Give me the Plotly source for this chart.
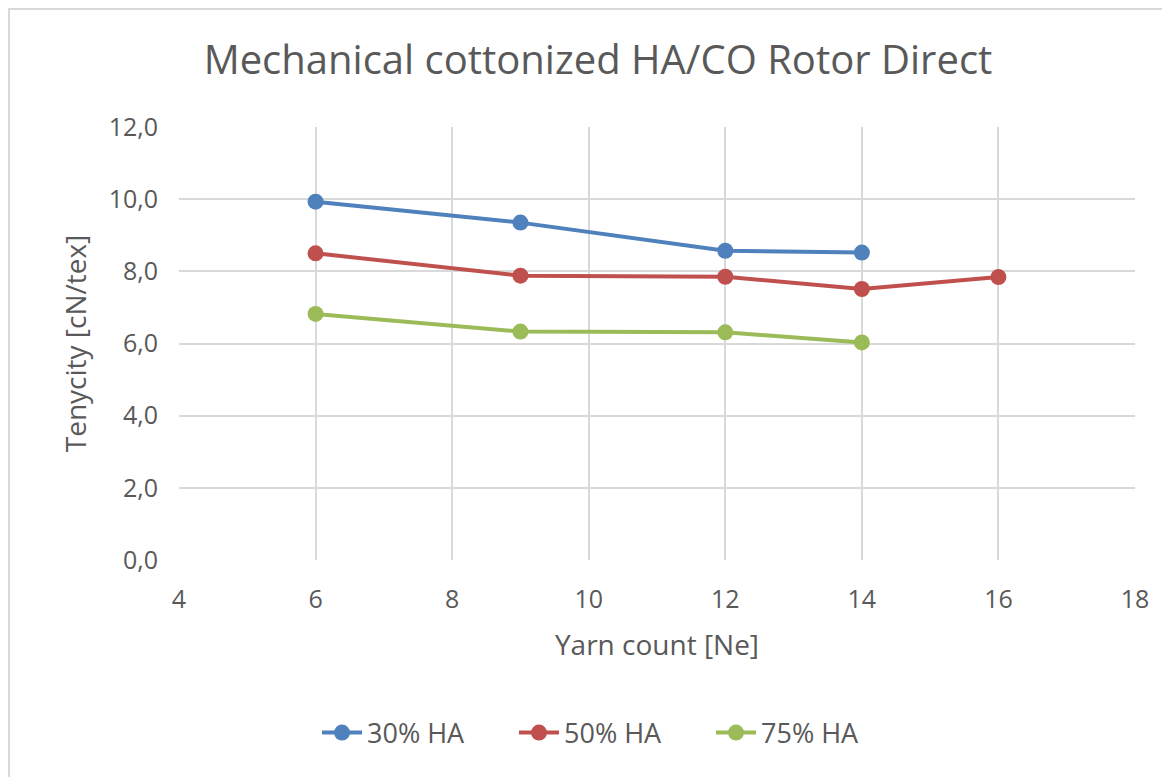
import plotly.graph_objects as go

yarn_count_30 = [6, 9, 12, 14]
tenacity_30 = [9.93, 9.35, 8.57, 8.52]
yarn_count_50 = [6, 9, 12, 14, 16]
tenacity_50 = [8.50, 7.88, 7.85, 7.51, 7.84]
yarn_count_75 = [6, 9, 12, 14]
tenacity_75 = [6.82, 6.33, 6.31, 6.03]
series_names = ["30% HA", "50% HA", "75% HA"]
colors = ["#4F81BD", "#C0504D", "#9BBB59"]

fig = go.Figure()
for name, xs, ys, c in zip(series_names,
                           [yarn_count_30, yarn_count_50, yarn_count_75],
                           [tenacity_30, tenacity_50, tenacity_75], colors):
    fig.add_trace(go.Scatter(x=xs, y=ys, name=name, mode="lines+markers",
                             line=dict(color=c, width=4),
                             marker=dict(color=c, size=16)))

text_color = "#595959"
W, H = 1170, 777
# page body has an 8px margin; compensate so the plot lands where the reference has it
DX, DY = 7, 8
PW, PH = 956, 433
L, T = 178 - DX, 127 - DY
R, B = W - L - PW, H - T - PH


def px_x(p):
    return (p - DX - L) / PW


def px_y(p):
    return (T + PH - (p - DY)) / PH


fig.update_layout(
    width=W, height=H,
    margin=dict(l=L, r=R, t=T, b=B),
    paper_bgcolor="white", plot_bgcolor="white",
    separators=", ",
    font=dict(family="Open Sans, sans-serif", color=text_color, size=25),
    title=dict(text="Mechanical cottonized HA/CO Rotor Direct",
               x=px_x(597), xanchor="center", xref="paper",
               y=1 - (60 - DY) / H, yanchor="middle",
               font=dict(size=40, color=text_color)),
    xaxis=dict(range=[4, 18], dtick=2, showgrid=True, gridcolor="#D9D9D9",
               gridwidth=2, zeroline=False, showline=False, ticks="",
               ticklabelstandoff=22,
               tickfont=dict(size=25, color=text_color),
               title=dict(text="Yarn count [Ne]", standoff=21,
                          font=dict(size=28, color=text_color))),
    yaxis=dict(range=[0, 12], dtick=2, tickformat=".1f", showgrid=True,
               gridcolor="#D9D9D9", gridwidth=2, zeroline=False,
               showline=False, ticks="", ticklabelstandoff=20,
               tickfont=dict(size=25, color=text_color),
               title=dict(text="Tenycity [cN/tex]", standoff=13,
                          font=dict(size=28, color=text_color))),
    legend=dict(orientation="h", x=px_x(316), xanchor="left", y=px_y(733),
                yanchor="middle", font=dict(size=27, color=text_color),
                entrywidth=142, entrywidthmode="pixels", itemwidth=40),
    shapes=[dict(type="rect", xref="paper", yref="paper",
                 x0=(1 - L) / PW, x1=(W + 20 - L) / PW,
                 y0=-(H + 20 - T - PH) / PH, y1=(T + PH - 1) / PH,
                 line=dict(color="#D9D9D9", width=2), layer="below")],
)

fig.write_html("out.html")
